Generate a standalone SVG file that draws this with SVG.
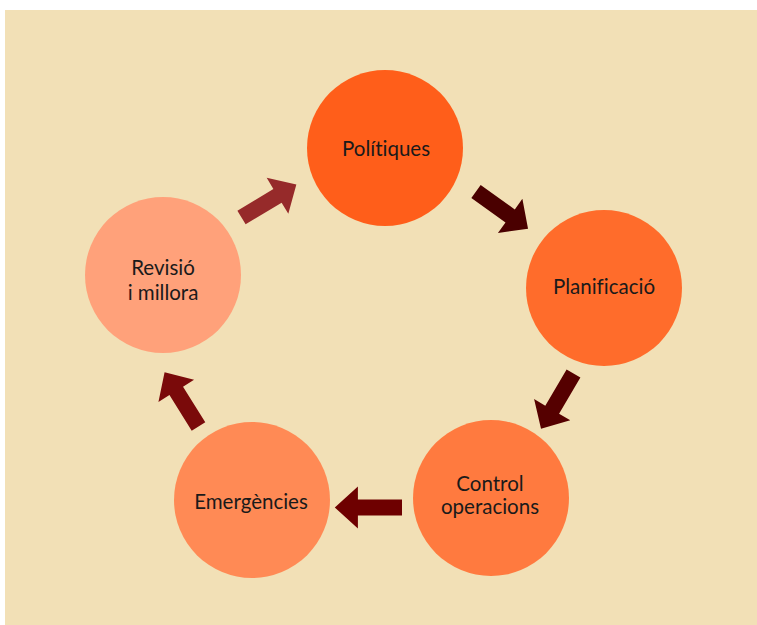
<svg xmlns="http://www.w3.org/2000/svg" width="757" height="625" viewBox="0 0 757 625">
<style>
.lbl{font-family:Lato,"Open Sans","Liberation Sans",sans-serif;font-size:20.5px;fill:#1a1a1a;text-anchor:middle;font-variant-ligatures:none}
</style>
<defs>
<path id="arr" d="M0,-8 L42,-8 L42,-21 L64,0 L42,21 L42,8 L0,8 Z"/>
</defs>
<rect x="5" y="10" width="752" height="615" fill="#F2E0B6"/>
<g id="connectors">
<use href="#arr" fill="#962A2A" transform="translate(241.5,217.5) rotate(-31)"/>
<use href="#arr" fill="#4A0000" transform="translate(476,191.5) rotate(35.6)"/>
<use href="#arr" fill="#550000" transform="translate(573.5,373.5) rotate(120.5)"/>
<use href="#arr" fill="#6E0000" transform="translate(402,507.5) rotate(180) scale(1.05,1)"/>
<use href="#arr" fill="#7A0A0A" transform="translate(198.5,426.5) rotate(-122)"/>
</g>
<g id="politiques">
<circle cx="385" cy="148" r="78" fill="#FF5E1A"/>
<text class="lbl" x="386" y="156">Polítiques</text>
</g>
<g id="planificacio">
<circle cx="604" cy="288" r="78" fill="#FF6C2B"/>
<text class="lbl" x="604" y="294">Planificació</text>
</g>
<g id="control">
<circle cx="491" cy="498" r="78" fill="#FF7A3F"/>
<text class="lbl" x="490" y="491">Control</text>
<text class="lbl" x="490" y="514">operacions</text>
</g>
<g id="emergencies">
<circle cx="252" cy="500" r="78" fill="#FF8A55"/>
<text class="lbl" x="251" y="509">Emergències</text>
</g>
<g id="revisio">
<circle cx="163" cy="275" r="78" fill="#FFA17A"/>
<text class="lbl" x="163" y="275">Revisió</text>
<text class="lbl" x="163" y="300">i millora</text>
</g>
</svg>
